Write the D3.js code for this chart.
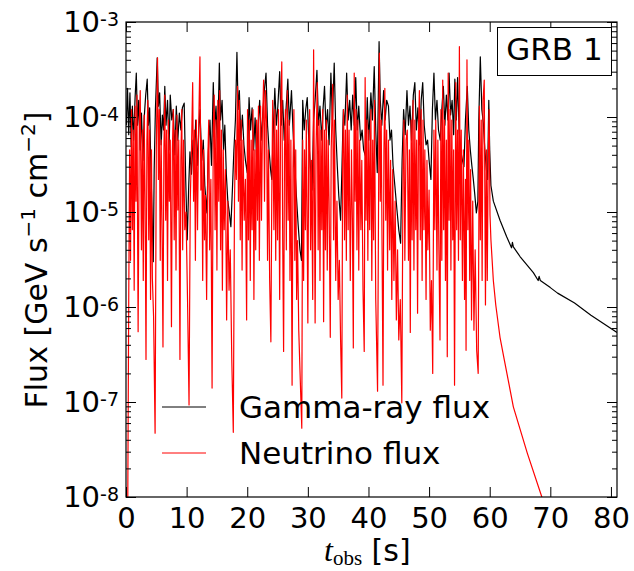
<!DOCTYPE html>
<html>
<head>
<meta charset="utf-8">
<script src="https://cdn.jsdelivr.net/npm/d3@7"></script>
<style>
  body { margin: 0; background: #fff; }
  svg { font-family: "DejaVu Sans", sans-serif; }
</style>
</head>
<body>
<svg id="chart" width="634" height="571"></svg>
<script>
// gamma-ray light curve, t in s, flux in GeV s^-1 cm^-2
var gammaTime = [
  0.05, 0.25, 0.45, 0.65, 0.85, 1.05, 1.25, 1.5, 1.7, 1.9,
  2.1, 2.35, 2.55, 2.8, 3.0, 3.25, 3.5, 3.7, 3.9, 4.1,
  4.3, 4.5, 4.65, 4.85, 5.15, 5.35, 5.55, 5.8, 6.0, 6.2,
  6.4, 6.6, 6.85, 7.1, 7.3, 7.55, 7.8, 8.05, 8.3, 8.55,
  8.8, 9.05, 9.3, 9.6, 9.85, 10.1, 10.35, 10.55, 10.8, 11.05,
  11.3, 11.5, 11.8, 12.0, 12.2, 12.5, 12.75, 13.0, 13.35, 13.6,
  13.85, 14.1, 14.4, 14.6, 14.85, 15.1, 15.4, 15.6, 15.85, 16.1,
  16.3, 16.55, 16.8, 17.05, 17.3, 17.55, 17.8, 18.05, 18.3, 18.5,
  18.7, 18.95, 19.2, 19.45, 19.7, 20.0, 20.3, 20.55, 20.8, 21.05,
  21.3, 21.55, 21.8, 22.05, 22.3, 22.55, 22.85, 23.1, 23.35, 23.6,
  23.85, 24.05, 24.3, 24.55, 24.8, 25.05, 25.35, 25.6, 25.85, 26.1,
  26.4, 26.7, 26.95, 27.3, 27.55, 27.8, 28.1, 28.4, 28.7, 28.95,
  29.15, 29.4, 29.65, 29.9, 30.15, 30.45, 30.7, 30.95, 31.2, 31.5,
  31.75, 32.0, 32.3, 32.5, 32.75, 33.0, 33.25, 33.5, 33.8, 34.05,
  34.35, 34.6, 34.85, 35.1, 35.4, 35.6, 35.85, 36.1, 36.4, 36.65,
  36.9, 37.15, 37.4, 37.65, 37.9, 38.15, 38.4, 38.7, 38.95, 39.2,
  39.55, 39.8, 40.05, 40.4, 40.65, 40.95, 41.2, 41.45, 41.75, 41.95,
  42.2, 42.5, 42.75, 43.0, 43.3, 43.55, 43.8, 44.05, 44.35, 44.7,
  45.0, 45.3, 45.55, 45.8, 46.05, 46.35, 46.6, 46.85, 47.1, 47.4,
  47.65, 47.9, 48.15, 48.45, 48.7, 48.95, 49.2, 49.5, 49.75, 50.0,
  50.3, 50.55, 50.8, 51.05, 51.3, 51.55, 51.85, 52.1, 52.35, 52.6,
  52.85, 53.1, 53.3, 53.55, 53.8, 54.05, 54.25, 54.5, 54.7, 54.95,
  55.2, 55.5, 55.75, 56.0, 56.3, 56.55, 56.8, 57.05, 57.3, 57.55,
  57.8, 58.05, 58.2, 58.45, 58.7, 58.95, 59.2, 59.45, 59.65, 59.85,
  60.0, 60.2, 60.6, 61.7, 62.8, 63.6, 63.75, 63.9, 65.0, 67.2,
  68.0, 68.15, 68.35, 70.0, 71.2, 74.0, 76.7, 81.0
];
var gammaFlux = [
  8.2e-5, 2.0e-4, 6.5e-5, 1.8e-4, 5.1e-5, 1.3e-4, 5.7e-5, 1.6e-4, 2.9e-4, 8.2e-5,
  1.5e-4, 4.5e-5, 1.1e-4, 3.5e-5, 9.8e-5, 1.7e-4, 2.5e-4, 8.2e-5, 1.25e-4, 3.1e-5,
  9.3e-6, 3.0e-6, 2.8e-5, 1.2e-4, 4.2e-4, 1.3e-4, 1.8e-4, 5.1e-5, 1.05e-4, 7.3e-5,
  2.1e-4, 8.2e-5, 1.5e-4, 4.5e-5, 1.7e-4, 9.3e-5, 1.2e-4, 4.0e-5, 1.3e-4, 5.7e-5,
  1.1e-4, 7.3e-5, 1.25e-4, 1.4e-4, 2.2e-5, 5.1e-6, 1.9e-5, 4.3e-5, 2.5e-5, 5.7e-5,
  3.7e-5, 9.3e-5, 3.1e-5, 7.3e-5, 1.2e-4, 3.5e-5, 5.7e-5, 1.9e-5, 9.8e-6, 4.5e-5,
  9.3e-5, 3.1e-5, 2.3e-4, 7.3e-5, 1.3e-4, 4.5e-5, 3.7e-4, 9.3e-5, 1.5e-4, 4.5e-5,
  8.2e-5, 2.5e-5, 1.3e-5, 9.8e-6, 7.0e-6, 1.7e-5, 4.5e-5, 9.3e-5, 4.8e-4, 1.2e-4,
  1.9e-4, 5.7e-5, 1.05e-4, 5.1e-5, 3.5e-5, 2.6e-5, 1.6e-4, 7.3e-5, 1.25e-4, 4.5e-5,
  9.8e-5, 3.5e-5, 8.2e-5, 1.5e-4, 5.7e-5, 1.05e-4, 2.0e-4, 2.9e-4, 8.2e-5, 4.5e-5,
  2.8e-5, 2.2e-5, 7.3e-5, 2.0e-4, 8.2e-5, 1.3e-4, 3.0e-4, 8.2e-5, 1.5e-4, 5.7e-5,
  1.2e-4, 2.5e-4, 8.2e-5, 1.9e-4, 7.3e-5, 3.5e-5, 1.5e-5, 7.3e-6, 4.0e-6, 3.1e-6,
  1.5e-4, 7.3e-5, 1.2e-4, 1.6e-4, 5.7e-5, 2.8e-5, 1.7e-5, 9.3e-5, 1.5e-4, 3.1e-4,
  8.2e-5, 1.3e-4, 5.7e-5, 1.2e-4, 2.1e-4, 7.3e-5, 1.2e-4, 5.1e-5, 2.9e-4, 9.3e-5,
  3.7e-4, 7.3e-5, 3.1e-5, 1.5e-5, 8.2e-6, 2.5e-5, 1.2e-4, 8.2e-5, 2.9e-4, 9.3e-5,
  1.5e-4, 7.3e-5, 1.7e-4, 8.2e-5, 2.6e-4, 7.3e-5, 1.3e-4, 5.7e-5, 7.3e-5, 4.5e-5,
  3.8e-5, 1.6e-4, 5.7e-5, 1.8e-4, 9.3e-5, 3.4e-4, 7.3e-5, 2.6e-5, 6.2e-4, 1.5e-4,
  8.2e-5, 1.9e-4, 9.3e-5, 1.5e-4, 1.3e-4, 5.7e-5, 7.3e-5, 3.1e-5, 1.9e-5, 1.05e-5,
  6.5e-6, 4.7e-6, 3.5e-5, 1.2e-4, 6.5e-5, 1.9e-4, 8.2e-5, 1.3e-4, 5.7e-5, 1.7e-4,
  2.3e-4, 7.3e-5, 1.25e-4, 5.1e-5, 1.5e-4, 2.3e-4, 8.2e-5, 5.1e-5, 5.7e-5, 3.5e-5,
  2.2e-5, 1.2e-4, 2.9e-4, 9.3e-5, 1.5e-4, 7.3e-5, 5.7e-5, 1.2e-4, 2.1e-4, 8.2e-5,
  1.7e-4, 9.3e-5, 2.9e-4, 1.05e-4, 1.5e-4, 6.5e-5, 2.5e-4, 9.3e-5, 2.6e-4, 7.3e-5,
  4.5e-5, 3.5e-5, 3.0e-5, 9.3e-5, 2.1e-4, 7.3e-5, 4.5e-5, 3.1e-5, 2.2e-5, 1.5e-5,
  9.8e-6, 1.3e-5, 9.3e-5, 4.3e-4, 1.2e-4, 8.6e-5, 4.5e-5, 2.8e-5, 2.2e-5, 1.5e-4,
  4.5e-5, 1.9e-5, 1.3e-5, 8.2e-6, 5.5e-6, 4.2e-6, 4.8e-6, 4.3e-6, 3.4e-6, 2.3e-6,
  1.9e-6, 2.1e-6, 1.9e-6, 1.6e-6, 1.4e-6, 1.1e-6, 8.2e-7, 5.4e-7
];

// neutrino light curve
var nuTime = [
  0.25, 0.45, 0.6, 0.75, 0.9, 1.05, 1.2, 1.35, 1.5, 1.65,
  1.8, 2.0, 2.2, 2.35, 2.55, 2.7, 2.85, 3.0, 3.15, 3.3,
  3.45, 3.6, 3.75, 3.9, 4.05, 4.2, 4.35, 4.55, 4.8, 5.0,
  5.2, 5.35, 5.5, 5.65, 5.8, 5.95, 6.1, 6.25, 6.4, 6.55,
  6.7, 6.85, 7.0, 7.15, 7.3, 7.5, 7.65, 7.8, 7.95, 8.1,
  8.25, 8.4, 8.55, 8.7, 8.9, 9.05, 9.2, 9.35, 9.5, 9.7,
  9.9, 10.15, 10.4, 10.6, 10.8, 11.0, 11.15, 11.3, 11.45, 11.6,
  11.8, 11.95, 12.2, 12.35, 12.5, 12.65, 12.8, 12.95, 13.1, 13.3,
  13.5, 13.65, 13.8, 14.0, 14.2, 14.4, 14.55, 14.7, 14.85, 15.0,
  15.15, 15.3, 15.45, 15.6, 15.75, 15.9, 16.05, 16.2, 16.4, 16.6,
  16.8, 17.0, 17.2, 17.45, 17.7, 17.9, 18.05, 18.2, 18.4, 18.55,
  18.7, 18.85, 19.0, 19.15, 19.3, 19.5, 19.7, 19.9, 20.05, 20.2,
  20.35, 20.5, 20.65, 20.8, 20.95, 21.1, 21.25, 21.4, 21.55, 21.7,
  21.85, 22.0, 22.2, 22.35, 22.5, 22.7, 22.85, 23.0, 23.2, 23.35,
  23.5, 23.7, 23.9, 24.05, 24.2, 24.4, 24.55, 24.7, 24.85, 25.0,
  25.15, 25.35, 25.5, 25.7, 25.85, 26.0, 26.15, 26.3, 26.45, 26.6,
  26.75, 26.9, 27.05, 27.2, 27.4, 27.55, 27.7, 27.85, 28.0, 28.15,
  28.3, 28.5, 28.75, 29.0, 29.15, 29.3, 29.45, 29.6, 29.75, 30.0,
  30.15, 30.3, 30.45, 30.6, 30.8, 30.95, 31.2, 31.35, 31.55, 31.7,
  31.85, 32.0, 32.15, 32.3, 32.45, 32.6, 32.75, 32.9, 33.05, 33.2,
  33.35, 33.5, 33.7, 33.85, 34.0, 34.1, 34.25, 34.4, 34.6, 34.8,
  35.0, 35.2, 35.4, 35.6, 35.75, 35.9, 36.05, 36.2, 36.35, 36.5,
  36.65, 36.8, 37.0, 37.2, 37.35, 37.5, 37.65, 37.8, 37.95, 38.1,
  38.25, 38.4, 38.55, 38.75, 38.9, 39.1, 39.3, 39.45, 39.6, 39.75,
  39.9, 40.05, 40.2, 40.4, 40.55, 40.7, 40.85, 41.0, 41.2, 41.5,
  41.8, 41.95, 42.1, 42.4, 42.55, 42.7, 42.85, 43.0, 43.15, 43.3,
  43.5, 43.65, 43.85, 44.0, 44.2, 44.4, 44.6, 44.8, 45.0, 45.25,
  45.5, 45.7, 45.85, 46.0, 46.2, 46.4, 46.6, 46.75, 46.9, 47.05,
  47.2, 47.35, 47.5, 47.65, 47.8, 47.95, 48.1, 48.25, 48.4, 48.55,
  48.7, 48.85, 49.0, 49.15, 49.3, 49.5, 49.65, 49.8, 50.0, 50.2,
  50.4, 50.6, 50.8, 50.95, 51.1, 51.3, 51.45, 51.6, 51.8, 51.95,
  52.1, 52.25, 52.4, 52.55, 52.7, 52.85, 53.0, 53.15, 53.3, 53.45,
  53.6, 53.75, 53.9, 54.05, 54.2, 54.4, 54.55, 54.7, 54.85, 55.0,
  55.15, 55.3, 55.5, 55.65, 55.85, 56.0, 56.1, 56.25, 56.4, 56.55,
  56.7, 56.85, 57.0, 57.2, 57.4, 57.6, 57.85, 58.1, 58.3, 58.45,
  58.6, 58.75, 58.9, 59.1, 59.3, 59.45, 59.6, 59.75, 59.9, 60.05,
  60.2, 60.6, 61.0, 61.7, 62.4, 63.9, 66.2, 68.6, 69.5
];
var nuFlux = [
  2.4e-9, 1.2e-6, 4.5e-5, 3.1e-6, 1.2e-4, 6.5e-6, 7.3e-5, 1.5e-6, 1.3e-4, 1.3e-5,
  1.7e-4, 5.5e-7, 9.3e-5, 1.9e-4, 4.0e-6, 7.3e-5, 1.9e-6, 1.05e-4, 1.3e-5, 2.8e-7,
  5.7e-5, 1.5e-4, 5.1e-6, 7.3e-5, 1.2e-6, 4.5e-5, 2.0e-6, 8.0e-7, 4.7e-8, 4.5e-5,
  4.2e-4, 2.2e-5, 1.2e-4, 3.1e-6, 5.7e-5, 6.5e-6, 3.8e-7, 4.5e-5, 1.7e-4, 8.2e-6,
  7.3e-5, 1.9e-6, 9.3e-5, 1.3e-5, 5.7e-5, 6.2e-7, 4.5e-5, 1.2e-4, 5.1e-6, 7.3e-5,
  2.45e-6, 1.05e-4, 1.05e-5, 5.7e-5, 2.8e-7, 3.5e-5, 1.2e-4, 4.0e-6, 5.7e-5, 6.5e-6,
  1.0e-5, 1.2e-6, 9.3e-8, 1.3e-5, 4.5e-5, 2.3e-4, 1.3e-5, 7.3e-5, 3.1e-6, 9.3e-5,
  6.5e-6, 5.7e-5, 4.3e-4, 1.7e-5, 5.7e-5, 1.9e-6, 4.5e-5, 5.1e-6, 1.5e-5, 1.2e-6,
  3.5e-5, 9.3e-5, 4.0e-6, 2.2e-5, 1.4e-7, 7.3e-5, 1.7e-4, 6.5e-6, 9.3e-5, 2.45e-6,
  1.5e-4, 1.3e-5, 1.9e-4, 4.0e-6, 7.3e-5, 1.5e-6, 4.5e-5, 6.5e-6, 2.8e-5, 7.3e-7,
  1.3e-5, 1.5e-6, 4.0e-6, 2.8e-7, 4.8e-8, 1.3e-5, 5.7e-5, 2.2e-5, 2.1e-4, 1.3e-5,
  1.5e-4, 5.1e-6, 9.3e-5, 2.45e-6, 5.7e-5, 8.2e-6, 2.2e-5, 7.3e-7, 1.2e-4, 5.1e-6,
  9.3e-5, 1.9e-6, 5.7e-5, 6.5e-6, 1.2e-4, 1.2e-6, 4.5e-5, 4.0e-6, 9.3e-5, 8.2e-6,
  1.3e-4, 3.1e-6, 1.3e-4, 8.2e-6, 7.3e-5, 2.45e-4, 1.3e-5, 1.9e-4, 8.6e-5, 3.1e-6,
  4.5e-5, 1.9e-6, 4.3e-7, 1.5e-5, 1.5e-4, 6.5e-6, 1.2e-4, 3.1e-6, 7.3e-5, 5.1e-6,
  1.2e-4, 1.2e-6, 9.3e-5, 3.8e-4, 5.1e-6, 3.4e-7, 4.5e-5, 1.2e-4, 4.0e-6, 1.9e-4,
  8.2e-6, 9.3e-5, 1.9e-6, 5.7e-5, 1.5e-7, 2.8e-5, 1.2e-4, 3.1e-6, 4.5e-5, 1.2e-6,
  5.0e-6, 5.7e-7, 1.7e-7, 5.3e-8, 5.7e-5, 1.9e-6, 4.5e-5, 6.5e-6, 9.3e-5, 6.8e-7,
  5.7e-5, 1.2e-4, 4.0e-6, 3.5e-5, 1.2e-6, 5.1e-4, 6.8e-7, 4.5e-5, 2.3e-4, 4.0e-6,
  9.3e-5, 1.9e-6, 7.3e-5, 6.5e-6, 1.2e-4, 7.0e-7, 7.3e-5, 4.0e-6, 9.3e-5, 2.45e-6,
  5.7e-5, 1.3e-5, 4.8e-7, 4.5e-5, 1.2e-4, 2.2e-4, 5.1e-6, 9.3e-5, 1.9e-6, 1.3e-5,
  1.2e-6, 3.1e-6, 4.5e-7, 1.1e-7, 4.5e-5, 1.2e-4, 5.1e-6, 7.3e-5, 3.1e-6, 1.7e-4,
  6.5e-6, 7.3e-5, 1.9e-6, 4.5e-5, 8.2e-6, 3.7e-7, 2.9e-4, 1.3e-5, 1.2e-4, 4.0e-6,
  9.3e-5, 2.45e-6, 5.7e-5, 6.5e-6, 3.5e-5, 1.5e-6, 3.4e-7, 2.6e-4, 8.2e-6, 9.3e-5,
  3.1e-6, 7.3e-5, 6.5e-6, 1.2e-4, 1.9e-6, 5.7e-5, 5.1e-6, 1.5e-4, 1.2e-6, 1.3e-7,
  4.7e-4, 1.3e-5, 9.3e-5, 1.5e-7, 4.5e-5, 2.0e-4, 8.2e-6, 7.3e-5, 2.45e-6, 5.7e-5,
  4.0e-6, 3.5e-5, 1.2e-6, 2.8e-5, 1.9e-6, 1.3e-5, 7.3e-7, 4.0e-6, 4.5e-7, 1.2e-6,
  9.8e-8, 2.8e-5, 9.3e-5, 3.1e-6, 5.7e-5, 7.3e-5, 3.1e-6, 4.5e-5, 5.4e-7, 9.3e-5,
  5.1e-6, 1.5e-4, 2.45e-6, 9.3e-5, 6.5e-6, 5.7e-5, 8.6e-7, 7.3e-5, 1.9e-4, 5.1e-6,
  1.2e-4, 1.9e-6, 9.3e-5, 6.5e-6, 4.5e-5, 1.2e-6, 3.5e-5, 4.0e-6, 1.7e-5, 5.7e-7,
  1.9e-6, 2.0e-7, 7.3e-5, 6.5e-6, 9.3e-5, 2.45e-6, 5.7e-5, 5.1e-6, 4.5e-7, 1.2e-4,
  3.1e-6, 2.45e-4, 6.5e-6, 9.3e-5, 1.9e-6, 5.7e-5, 3.0e-7, 2.9e-4, 8.2e-6, 1.2e-4,
  2.45e-6, 9.3e-5, 5.1e-6, 4.5e-5, 1.5e-7, 2.3e-4, 6.5e-6, 7.3e-5, 3.1e-6, 5.5e-4,
  5.1e-6, 7.3e-5, 1.9e-6, 4.5e-5, 1.2e-6, 2.2e-5, 3.5e-7, 4.0e-4, 6.5e-6, 5.7e-5,
  1.9e-6, 2.8e-5, 7.3e-7, 1.3e-5, 5.7e-7, 4.0e-6, 3.5e-7, 2.0e-7, 1.3e-4, 5.1e-6,
  9.3e-5, 1.9e-6, 1.5e-4, 2.45e-4, 1.05e-6, 4.5e-5, 1.9e-6, 3.5e-5, 1.2e-4, 9.3e-6,
  5.1e-6, 1.9e-6, 1.05e-6, 4.8e-7, 2.8e-7, 8.9e-8, 2.9e-8, 1.0e-8, 5.0e-9
];

var xTicks = [0, 10, 20, 30, 40, 50, 60, 70, 80];
var yTicks = [1e-8, 1e-7, 1e-6, 1e-5, 1e-4, 1e-3];
var seriesNames = ["Gamma-ray flux", "Neutrino flux"];
var seriesColors = ["#000000", "#ff0000"];
var panelLabel = "GRB 1";

var chart = d3.select("#chart");
var plotLeft = 126, plotRight = 617, plotTop = 22, plotBottom = 497;

var xScale = d3.scaleLinear().domain([0, 81]).range([plotLeft, plotRight]);
var yScale = d3.scaleLog().domain([1e-8, 1e-3]).range([plotBottom, plotTop]);

chart.append("clipPath").attr("id", "plotclip")
  .append("rect")
    .attr("x", plotLeft).attr("y", plotTop)
    .attr("width", plotRight - plotLeft).attr("height", plotBottom - plotTop);

var line = d3.line()
  .x(function(d) { return xScale(d[0]); })
  .y(function(d) { return yScale(d[1]); });

var series = [d3.zip(gammaTime, gammaFlux), d3.zip(nuTime, nuFlux)];

chart.selectAll("path.curve")
  .data(series).enter()
    .append("path")
      .attr("class", "curve")
      .attr("d", line)
      .attr("fill", "none")
      .attr("stroke", function(d, i) { return seriesColors[i]; })
      .attr("stroke-width", 1.2)
      .attr("stroke-linejoin", "round")
      .attr("clip-path", "url(#plotclip)");

// frame
chart.append("rect")
  .attr("x", plotLeft).attr("y", plotTop)
  .attr("width", plotRight - plotLeft).attr("height", plotBottom - plotTop)
  .attr("fill", "none")
  .attr("stroke", "#000")
  .attr("stroke-width", 1.2);

function plain(g) {
  g.select(".domain").remove();
  g.selectAll(".tick line").attr("stroke", "#000").attr("stroke-width", 1);
}

var minorTicks = yScale.ticks().filter(function(v) {
  return Math.abs(Math.log10(v) - Math.round(Math.log10(v))) > 1e-6;
});

// x axes (inward ticks)
chart.append("g")
  .attr("transform", "translate(0," + plotBottom + ")")
  .call(d3.axisBottom(xScale).tickValues(xTicks).tickSizeInner(-10).tickSizeOuter(0).tickPadding(10))
  .call(plain)
  .attr("font-family", "DejaVu Sans")
  .attr("font-size", 29)
  .selectAll("text").attr("fill", "#000");

chart.append("g")
  .attr("transform", "translate(0," + plotTop + ")")
  .call(d3.axisTop(xScale).tickValues(xTicks).tickSizeInner(-10).tickSizeOuter(0).tickFormat(function() { return ""; }))
  .call(plain);

// y axes, left and right, major and minor
[[d3.axisLeft, plotLeft], [d3.axisRight, plotRight]].forEach(function(a) {
  chart.append("g")
    .attr("transform", "translate(" + a[1] + ",0)")
    .call(a[0](yScale).tickValues(minorTicks).tickSizeInner(-5).tickSizeOuter(0).tickFormat(function() { return ""; }))
    .call(plain);
  chart.append("g")
    .attr("transform", "translate(" + a[1] + ",0)")
    .call(a[0](yScale).tickValues(yTicks).tickSizeInner(-10).tickSizeOuter(0).tickFormat(function() { return ""; }))
    .call(plain);
});

// y tick labels 10^n
chart.selectAll("text.ylab")
  .data(yTicks).enter()
    .append("text")
      .attr("class", "ylab")
      .attr("x", plotLeft - 7)
      .attr("y", function(d) { return yScale(d) + 10; })
      .attr("text-anchor", "end")
      .attr("font-size", 29)
      .each(function(d) {
        var t = d3.select(this);
        t.append("tspan").text("10");
        t.append("tspan").attr("font-size", 19).attr("dy", -6)
          .text(String(Math.round(Math.log10(d))));
      });

// axis titles
var ylab = chart.append("text")
  .attr("transform", "translate(47,260) rotate(-90)")
  .attr("text-anchor", "middle")
  .attr("font-size", 30);
ylab.append("tspan").text("Flux [GeV s");
ylab.append("tspan").attr("font-size", 20).attr("dy", -12).text("\u22121");
ylab.append("tspan").attr("dy", 12).text(" cm");
ylab.append("tspan").attr("font-size", 20).attr("dy", -12).text("\u22122");
ylab.append("tspan").attr("dy", 12).text("]");

var xlab = chart.append("text")
  .attr("x", 324).attr("y", 561)
  .attr("font-size", 30);
xlab.append("tspan").attr("font-family", "Liberation Serif").attr("font-style", "italic").attr("font-size", 32).text("t");
xlab.append("tspan").attr("font-family", "Liberation Serif").attr("font-size", 21).attr("dy", 4).text("obs");
xlab.append("tspan").attr("dy", -4).text(" [s]");

// legend (no frame)
var legend = chart.selectAll("g.legend")
  .data(seriesNames).enter()
    .append("g").attr("class", "legend")
      .attr("transform", function(d, i) { return "translate(0," + (407 + i * 46) + ")"; });
legend.append("line")
  .attr("x1", 162).attr("x2", 206)
  .attr("stroke", function(d, i) { return seriesColors[i]; })
  .attr("stroke-width", 1);
legend.append("text")
  .attr("x", 239).attr("y", 11)
  .attr("font-size", 31)
  .text(function(d) { return d; });

// panel label
chart.append("rect")
  .attr("x", 497.5).attr("y", 27.5)
  .attr("width", 114).attr("height", 48)
  .attr("fill", "#fff").attr("stroke", "#000").attr("stroke-width", 1);
chart.append("text")
  .attr("x", 554.5).attr("y", 60)
  .attr("text-anchor", "middle")
  .attr("font-size", 31)
  .text(panelLabel);
</script>
</body>
</html>
